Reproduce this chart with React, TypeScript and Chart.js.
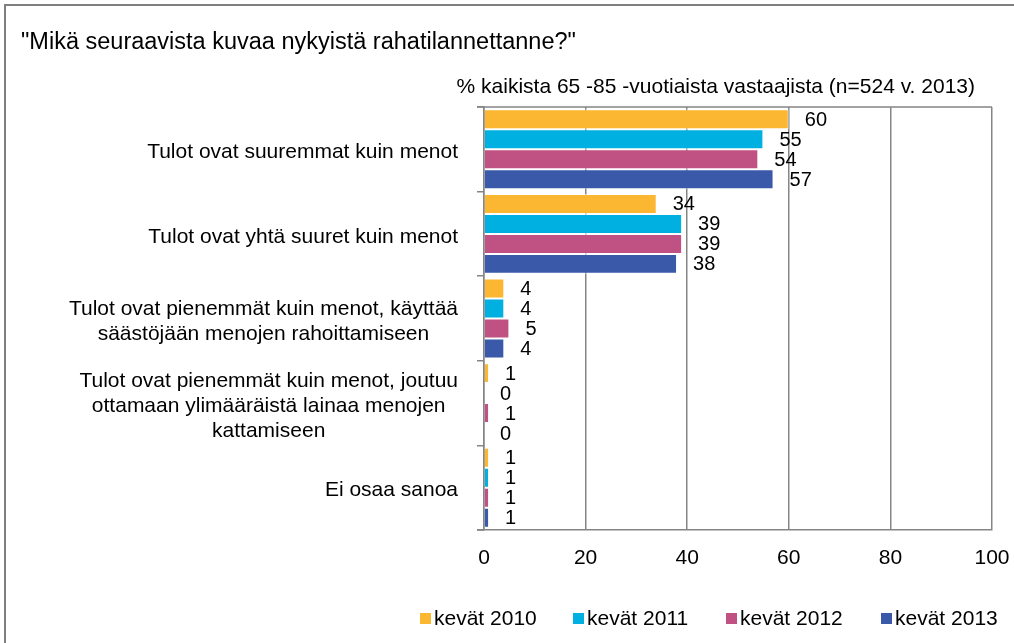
import React, { useEffect, useRef } from "react";
import { Chart, registerables } from "chart.js";

Chart.register(...registerables);

const TITLE = '"Mikä seuraavista kuvaa nykyistä rahatilannettanne?"';
const SUBTITLE = "% kaikista 65 -85 -vuotiaista vastaajista (n=524 v. 2013)";

const categories: string[][] = [
  ["Tulot ovat suuremmat kuin menot"],
  ["Tulot ovat yhtä suuret kuin menot"],
  ["Tulot ovat pienemmät kuin menot, käyttää", "säästöjään menojen rahoittamiseen"],
  ["Tulot ovat pienemmät kuin menot, joutuu", "ottamaan ylimääräistä lainaa menojen", "kattamiseen"],
  ["Ei osaa sanoa"],
];

const seriesNames = ["kevät 2010", "kevät 2011", "kevät 2012", "kevät 2013"];
const v2010 = [60, 34, 4, 1, 1];
const v2011 = [55, 39, 4, 0, 1];
const v2012 = [54, 39, 5, 1, 1];
const v2013 = [57, 38, 4, 0, 1];
const seriesColors = ["#FBB731", "#00B0E0", "#C05283", "#3A59A8"];
const xTicks = [0, 20, 40, 60, 80, 100];

const FONT = "'Liberation Sans', Arial, sans-serif";
const GRID = "#858585";

export default function App() {
  const ref = useRef<HTMLCanvasElement | null>(null);

  useEffect(() => {
    const canvas = ref.current;
    if (!canvas) return;

    const decor = {
      id: "decor",
      afterDraw(chart: any) {
        const ctx = chart.ctx as CanvasRenderingContext2D;
        const area = chart.chartArea;
        ctx.save();
        // outer frame
        ctx.strokeStyle = "#7f7f7f";
        ctx.lineWidth = 2;
        ctx.beginPath();
        ctx.moveTo(5, 700);
        ctx.lineTo(5, 5);
        ctx.lineTo(1100, 5);
        ctx.stroke();

        // plot frame top
        ctx.strokeStyle = GRID;
        ctx.lineWidth = 1.5;
        ctx.beginPath();
        ctx.moveTo(area.left - 7, area.top);
        ctx.lineTo(area.right, area.top);
        ctx.moveTo(area.left - 7, area.bottom);
        ctx.lineTo(area.left, area.bottom);
        ctx.stroke();

        // title
        ctx.fillStyle = "#000";
        ctx.textBaseline = "middle";
        ctx.textAlign = "left";
        ctx.font = `23.5px ${FONT}`;
        ctx.fillText(TITLE, 21, 43);
        ctx.font = `21px ${FONT}`;
        ctx.textAlign = "right";
        ctx.fillText(SUBTITLE, 975, 87);

        // category labels
        const yScale = chart.scales.y;
        ctx.font = `21px ${FONT}`;
        ctx.textAlign = "center";
        const rightEdge = 458;
        const lineH = 25;
        categories.forEach((lines, i) => {
          const cy = yScale.getPixelForValue(i) + 3;
          const maxW = Math.max(...lines.map((l) => ctx.measureText(l).width));
          const cx = rightEdge - maxW / 2;
          const startY = cy - ((lines.length - 1) * lineH) / 2;
          lines.forEach((l, j) => ctx.fillText(l, cx, startY + j * lineH));
        });

        // value labels
        ctx.font = `20px ${FONT}`;
        ctx.textAlign = "left";
        chart.data.datasets.forEach((ds: any, di: number) => {
          const meta = chart.getDatasetMeta(di);
          meta.data.forEach((bar: any, i: number) => {
            ctx.fillText(String(ds.data[i]), bar.x + 16, bar.y + 1);
          });
        });

        // legend
        ctx.font = `21px ${FONT}`;
        const legendX = [420, 573, 726, 881];
        const legendY = 619;
        seriesNames.forEach((name, i) => {
          ctx.fillStyle = seriesColors[i];
          ctx.fillRect(legendX[i], legendY - 6, 11, 11);
          ctx.fillStyle = "#000";
          ctx.fillText(name, legendX[i] + 14, legendY);
        });
        ctx.restore();
      },
    };

    const mk = (i: number, data: number[]) => ({
      label: seriesNames[i],
      data,
      backgroundColor: seriesColors[i],
      borderColor: "rgba(255,255,255,0.55)",
      borderWidth: 1,
      barPercentage: 1,
      categoryPercentage: 0.945,
    });

    const chart = new Chart(canvas, {
      type: "bar",
      data: {
        labels: categories.map((c) => c.join(" ")),
        datasets: [mk(0, v2010), mk(1, v2011), mk(2, v2012), mk(3, v2013)],
      },
      options: {
        indexAxis: "y",
        animation: false,
        responsive: false,
        maintainAspectRatio: false,
        layout: { padding: { left: 464, right: 22, top: 107, bottom: 73 } },
        plugins: {
          legend: { display: false },
          title: { display: false },
          tooltip: { enabled: false },
        },
        scales: {
          x: {
            min: 0,
            max: 100,
            afterBuildTicks: (scale: any) => {
              scale.ticks = xTicks.map((v) => ({ value: v }));
            },
            afterFit: (scale: any) => {
              scale.height = 40;
              scale.paddingLeft = 0;
              scale.paddingRight = 0;
            },
            grid: { color: GRID, lineWidth: 1.5, drawTicks: false },
            border: { display: true, color: GRID, width: 1.5 },
            ticks: {
              color: "#000",
              font: { family: FONT, size: 21 },
              padding: 16,
              maxRotation: 0,
            },
          },
          y: {
            afterFit: (scale: any) => {
              scale.width = 20;
            },
            grid: {
              offset: true,
              drawOnChartArea: false,
              drawTicks: true,
              tickLength: 7,
              color: GRID,
              lineWidth: 1.5,
            },
            border: { display: true, color: GRID, width: 1.5 },
            ticks: { display: false },
          },
        },
      },
      plugins: [decor],
    } as any);

    return () => chart.destroy();
  }, []);

  return (
    <div style={{ position: "absolute", left: 0, top: 0, width: 1014, height: 643, background: "#fff" }}>
      <canvas ref={ref} width={1014} height={643} style={{ display: "block", width: 1014, height: 643 }} />
    </div>
  );
}
